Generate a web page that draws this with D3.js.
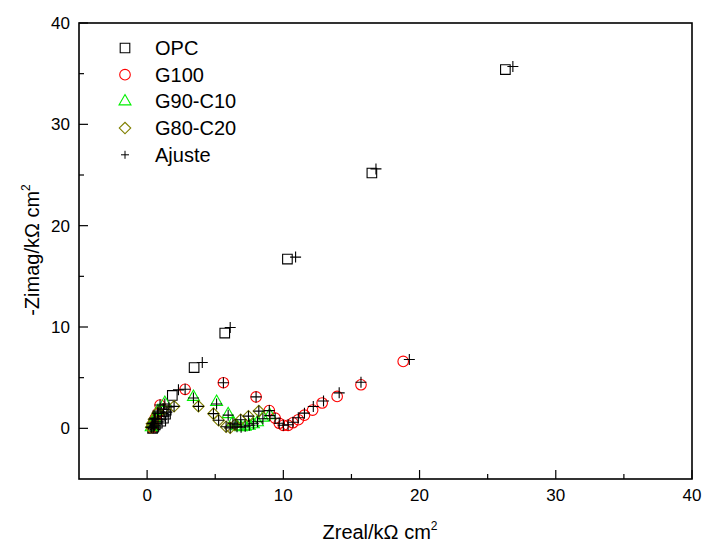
<!DOCTYPE html>
<html lang="en">
  <head>
    <meta charset="UTF-8" />
    <title>Nyquist</title>
    <script src="https://d3js.org/d3.v7.min.js"></script>
    <style>
      body { margin: 0; background: #fff; }
      svg { font-family: "Liberation Sans", Arial, sans-serif; }
    </style>
  </head>
  <body>
    <script>
      // Data (kOhm cm2)
      const opcRe = [0.4, 0.45, 0.5, 0.6, 0.75, 1.0, 1.2, 1.35, 1.4, 1.85, 3.45, 5.7, 10.3, 16.5, 26.3];
      const opcIm = [0.0, 0.1, 0.2, 0.35, 0.5, 0.7, 1.0, 1.4, 1.8, 3.25, 6.0, 9.4, 16.7, 25.2, 35.4];
      const opcFitRe = [0.45, 0.5, 0.55, 0.65, 0.8, 1.05, 1.25, 1.45, 1.6, 2.3, 4.05, 6.1, 10.9, 16.8, 26.85];
      const opcFitIm = [0.05, 0.15, 0.3, 0.45, 0.65, 0.9, 1.2, 1.6, 2.1, 3.8, 6.5, 9.95, 16.9, 25.6, 35.7];

      const g100Re = [0.35, 0.45, 0.6, 0.8, 0.95, 2.79, 5.6, 8.0, 8.97, 9.4, 9.7, 10.0, 10.35, 10.7, 11.1, 11.55, 12.15, 12.85, 13.95, 15.7, 18.8];
      const g100Im = [0.1, 0.5, 1.0, 1.5, 2.3, 3.85, 4.5, 3.1, 1.75, 1.0, 0.5, 0.3, 0.3, 0.55, 0.85, 1.3, 1.8, 2.5, 3.15, 4.3, 6.6];
      const g100FitRe = [0.35, 0.45, 0.6, 0.8, 0.95, 2.79, 5.6, 8.0, 8.97, 9.4, 9.7, 10.0, 10.35, 10.7, 11.1, 11.55, 12.2, 12.95, 14.1, 15.7, 19.25];
      const g100FitIm = [0.1, 0.5, 1.0, 1.5, 2.3, 3.85, 4.5, 3.1, 1.75, 1.0, 0.5, 0.3, 0.35, 0.6, 1.05, 1.5, 2.15, 2.7, 3.5, 4.55, 6.8];

      const g90Re = [0.3, 0.4, 0.55, 0.8, 1.3, 3.4, 5.1, 5.95, 6.3, 6.6, 6.9, 7.2, 7.5, 7.8, 8.1, 8.5, 9.0];
      const g90Im = [0.1, 0.5, 1.0, 1.7, 2.5, 3.1, 2.6, 1.4, 0.6, 0.2, 0.1, 0.15, 0.25, 0.4, 0.6, 1.05, 1.3];
      const g90FitRe = [0.3, 0.4, 0.55, 0.8, 1.3, 3.4, 5.1, 5.95, 6.3, 6.6, 6.9, 7.2, 7.5, 7.8, 8.1, 8.5, 9.0];
      const g90FitIm = [0.1, 0.5, 1.0, 1.7, 2.4, 3.0, 2.4, 1.3, 0.5, 0.15, 0.1, 0.2, 0.3, 0.45, 0.65, 0.95, 1.25];

      const g80Re = [0.3, 0.35, 0.5, 0.76, 1.2, 1.98, 3.77, 4.87, 5.25, 5.8, 6.1, 6.45, 6.87, 7.44, 8.2];
      const g80Im = [0.1, 0.45, 0.9, 1.5, 1.9, 2.17, 2.17, 1.45, 0.8, 0.15, 0.05, 0.35, 0.85, 1.2, 1.7];
      const g80FitRe = [0.3, 0.35, 0.5, 0.76, 1.2, 1.98, 3.77, 4.87, 5.25, 5.8, 6.1, 6.45, 6.87, 7.44, 8.2];
      const g80FitIm = [0.1, 0.45, 0.9, 1.5, 1.9, 2.17, 2.17, 1.45, 0.8, 0.15, 0.05, 0.35, 0.85, 1.2, 1.7];

      const xTicks = [0, 10, 20, 30, 40];
      const yTicks = [0, 10, 20, 30, 40];
      const legendNames = ["OPC", "G100", "G90-C10", "G80-C20", "Ajuste"];

      const width = 702, height = 544;
      const m = { left: 79, right: 692, top: 23, bottom: 479 };

      const x = d3.scaleLinear().domain([-5, 40]).range([m.left, m.right]);
      const y = d3.scaleLinear().domain([-5, 40]).range([m.bottom, m.top]);

      const svg = d3.select("body").append("svg")
        .attr("width", width).attr("height", height);

      const zip = (a, b) => a.map((v, i) => [v, b[i]]);

      // marker shapes
      const shapes = {
        square: d3.symbol(d3.symbolSquare, 92)(),
        circle: d3.symbol(d3.symbolCircle, 88)(),
        triangle: d3.symbol(d3.symbolTriangle, 62)(),
        diamond: d3.symbol(d3.symbolSquare, 66)(),
        plus: "M-5.5,0H5.5M0,-5.5V5.5"
      };
      const series = [
        { pts: zip(opcRe, opcIm), shape: "square", color: "#000000" },
        { pts: zip(g100Re, g100Im), shape: "circle", color: "#ff0000" },
        { pts: zip(g90Re, g90Im), shape: "triangle", color: "#00f000" },
        { pts: zip(g80Re, g80Im), shape: "diamond", color: "#808000" }
      ];
      const fitPts = [].concat(
        zip(opcFitRe, opcFitIm), zip(g100FitRe, g100FitIm),
        zip(g90FitRe, g90FitIm), zip(g80FitRe, g80FitIm)
      );

      function marker(g, shape, color) {
        g.append("path")
          .attr("d", shapes[shape])
          .attr("transform", shape === "diamond" ? "rotate(45)" : null)
          .attr("fill", "none")
          .attr("stroke", color)
          .attr("stroke-width", 1.1);
      }

      // ticks point inward, left & bottom only
      const gx = svg.append("g").attr("transform", `translate(0,${m.bottom})`);
      gx.selectAll("line").data(d3.range(0, 41, 5)).join("line")
        .attr("x1", d => x(d)).attr("x2", d => x(d))
        .attr("y1", 0).attr("y2", d => d % 10 === 0 ? -9 : -5)
        .attr("stroke", "#000").attr("stroke-width", 1.2);
      gx.selectAll("text").data(xTicks).join("text")
        .attr("x", d => x(d)).attr("y", 22)
        .attr("text-anchor", "middle").attr("font-size", 17).text(d => d);

      const gy = svg.append("g").attr("transform", `translate(${m.left},0)`);
      gy.selectAll("line").data(d3.range(0, 41, 5)).join("line")
        .attr("y1", d => y(d)).attr("y2", d => y(d))
        .attr("x1", 0).attr("x2", d => d % 10 === 0 ? 9 : 5)
        .attr("stroke", "#000").attr("stroke-width", 1.2);
      gy.selectAll("text").data(yTicks).join("text")
        .attr("x", -9).attr("y", d => y(d)).attr("dy", "0.35em")
        .attr("text-anchor", "end").attr("font-size", 17).text(d => d);

      // frame
      svg.append("rect")
        .attr("x", m.left).attr("y", m.top)
        .attr("width", m.right - m.left).attr("height", m.bottom - m.top)
        .attr("fill", "none").attr("stroke", "#000").attr("stroke-width", 1.6);

      // axis titles
      const xt = svg.append("text").attr("x", 380).attr("y", 539)
        .attr("text-anchor", "middle").attr("font-size", 20);
      xt.append("tspan").text("Zreal/k\u03A9 cm");
      xt.append("tspan").attr("dy", -9).attr("font-size", 12).text("2");

      const yt = svg.append("text")
        .attr("transform", "translate(39,250) rotate(-90)")
        .attr("text-anchor", "middle").attr("font-size", 20);
      yt.append("tspan").text("-Zimag/k\u03A9 cm");
      yt.append("tspan").attr("dy", -9).attr("font-size", 12).text("2");

      // points
      const plot = svg.append("g");
      series.forEach(s => {
        plot.append("g").selectAll("g").data(s.pts).join("g")
          .attr("transform", d => `translate(${x(d[0])},${y(d[1])})`)
          .each(function () { marker(d3.select(this), s.shape, s.color); });
      });
      plot.append("g").selectAll("g").data(fitPts).join("g")
        .attr("transform", d => `translate(${x(d[0])},${y(d[1])})`)
        .each(function () { marker(d3.select(this), "plus", "#000"); });

      // legend
      const legShapes = ["square", "circle", "triangle", "diamond", "plus"];
      const legColors = ["#000000", "#ff0000", "#00f000", "#808000", "#000000"];
      const leg = svg.append("g");
      legendNames.forEach((name, i) => {
        const row = leg.append("g").attr("transform", `translate(125,${48 + i * 26.7})`);
        const mk = row.append("g");
        if (legShapes[i] === "plus") {
          mk.append("path").attr("d", "M-4,0H4M0,-4V4").attr("stroke", "#000").attr("stroke-width", 1);
        } else {
          marker(mk, legShapes[i], legColors[i]);
        }
        row.append("text").attr("x", 30).attr("dy", "0.35em")
          .attr("font-size", 20).text(name);
      });
    </script>
  </body>
</html>
